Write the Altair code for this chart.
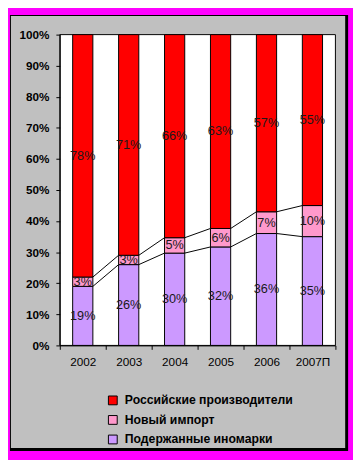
import altair as alt
import pandas as pd

years = ["2002", "2003", "2004", "2005", "2006", "2007П"]
used = [19, 26, 30, 32, 36, 35]
new_import = [3, 3, 5, 6, 7, 10]
russian = [78, 71, 66, 63, 57, 55]
series_names = ["Российские производители", "Новый импорт", "Подержанные иномарки"]
series_colors = ["#FF0000", "#FF99CC", "#CC99FF"]
y_ticks = [0, 0.1, 0.2, 0.3, 0.4, 0.5, 0.6, 0.7, 0.8, 0.9, 1.0]

FONT = "Liberation Sans"

rows = []
for i, yr in enumerate(years):
    total = used[i] + new_import[i] + russian[i]
    cum = 0
    segs = [(series_names[2], used[i]), (series_names[1], new_import[i]), (series_names[0], russian[i])]
    for order, (name, v) in enumerate(segs):
        rows.append(dict(year=yr, series=name, value=v, ord=order,
                         mid=(cum + v / 2) / total, label=f"{v}%"))
        cum += v
df = pd.DataFrame(rows)

lines = []
for i in range(len(years) - 1):
    t0 = used[i] + new_import[i] + russian[i]
    t1 = used[i + 1] + new_import[i + 1] + russian[i + 1]
    lines.append(dict(frm=years[i], to=years[i + 1], y0=used[i] / t0, y1=used[i + 1] / t1))
    lines.append(dict(frm=years[i], to=years[i + 1],
                      y0=(used[i] + new_import[i]) / t0,
                      y1=(used[i + 1] + new_import[i + 1]) / t1))
ldf = pd.DataFrame(lines)

one = pd.DataFrame({"a": [0]})
W, H = 282, 318

shadow = alt.Chart(one).mark_rect(color="black").encode(
    x=alt.value(-51), x2=alt.value(295), y=alt.value(-20), y2=alt.value(426))
panel = alt.Chart(one).mark_rect(color="#C0C0C0").encode(
    x=alt.value(-50), x2=alt.value(292), y=alt.value(-19), y2=alt.value(423))
plot_bg = alt.Chart(one).mark_rect(fill="white", stroke="black", strokeWidth=1).encode(
    x=alt.value(0), x2=alt.value(W), y=alt.value(0), y2=alt.value(H))

xscale = alt.Scale(domain=years, paddingInner=0, paddingOuter=0)
yscale = alt.Scale(domain=[0, 1])

xaxis = alt.Axis(title=None, labelAngle=0, tickBand="extent", labelFont=FONT,
                 labelFontSize=12, labelColor="black", tickColor="black",
                 domainColor="black", tickSize=4, labelPadding=8, zindex=2)
yaxis = alt.Axis(title=None, values=y_ticks, format=".0%", grid=False,
                 labelFont=FONT, labelFontSize=12, labelFontWeight="bold",
                 labelColor="black", tickColor="black", domainColor="black",
                 tickSize=4, labelPadding=7, zindex=2)

bars = alt.Chart(df).mark_bar(width={"band": 0.44}, stroke="black", strokeWidth=1).encode(
    x=alt.X("year:N", scale=xscale, sort=years, axis=xaxis),
    y=alt.Y("value:Q", stack="normalize", scale=yscale, axis=yaxis),
    color=alt.Color("series:N", scale=alt.Scale(domain=series_names, range=series_colors),
                    legend=alt.Legend(title=None, orient="none", legendX=48, legendY=368,
                                      direction="vertical", symbolType="square",
                                      symbolSize=81, symbolStrokeColor="black",
                                      symbolStrokeWidth=1, labelFont=FONT,
                                      labelFontSize=12.5, labelFontWeight="bold",
                                      labelColor="black", labelOffset=6, rowPadding=6,
                                      labelLimit=0, padding=0)),
    order=alt.Order("ord:Q"),
)

rules = alt.Chart(ldf).mark_rule(color="black", strokeWidth=1).encode(
    x=alt.X("frm:N", scale=xscale, sort=years, bandPosition=0.72, axis=xaxis),
    x2=alt.X2("to", bandPosition=0.28),
    y=alt.Y("y0:Q", scale=yscale, axis=yaxis),
    y2=alt.Y2("y1"),
)

texts = alt.Chart(df).mark_text(font=FONT, fontSize=13, color="#1a1a1a",
                                baseline="middle", align="center").encode(
    x=alt.X("year:N", scale=xscale, sort=years, axis=xaxis),
    y=alt.Y("mid:Q", scale=yscale, axis=yaxis),
    text="label:N",
)

chart = alt.layer(shadow, panel, plot_bg, bars, rules, texts).properties(
    width=W, height=H,
    padding={"left": 53, "top": 22, "right": 18, "bottom": 112},
    autosize="none",
    background="#FF00FF",
).configure_view(strokeWidth=0)

chart.save("out.html", embed_options={"renderer": "svg", "actions": False})
